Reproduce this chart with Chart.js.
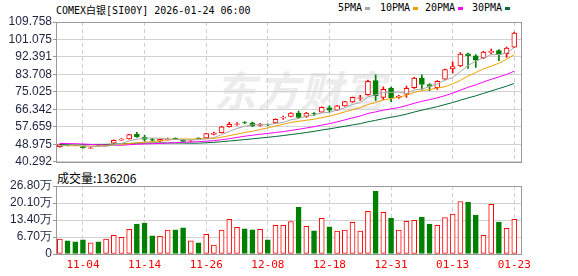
<!DOCTYPE html>
<html>
<head>
<meta charset="utf-8">
<script src="https://cdn.jsdelivr.net/npm/chart.js@4.4.1/dist/chart.umd.min.js"></script>
<style>
    body { margin: 0; background: #fff; width: 578px; height: 276px; overflow: hidden; position: relative; }
    .txt { position: absolute; white-space: nowrap; color: #000; }
    .mono { font: 10px "DejaVu Sans Mono", "Noto Sans CJK SC", monospace; }
    .mk { display: inline-block; width: 5px; height: 3px; vertical-align: middle; margin-left: 3px; }
    #wm { position: absolute; left: 214px; top: 58px; font: bold 42px "Noto Sans CJK SC"; color: #ececec; font-style: italic; letter-spacing: 1px; }
    canvas { position: absolute; left: 0; }
</style>
</head>
<body>
<div id="wm">东方财富</div>
<div class="txt mono" style="left:56px;top:2px;">COMEX白银[SI00Y] 2026-01-24 06:00</div>
<div class="txt mono" style="left:338px;top:2px;">5PMA<span class="mk" style="background:#a8a8a8"></span></div>
<div class="txt mono" style="left:380px;top:2px;">10PMA<span class="mk" style="background:#f0a000"></span></div>
<div class="txt mono" style="left:425px;top:2px;">20PMA<span class="mk" style="background:#ff00ff"></span></div>
<div class="txt mono" style="left:472px;top:2px;">30PMA<span class="mk" style="background:#006b35"></span></div>
<div class="txt" style="left:57px;top:169px;font:12px 'Noto Sans CJK SC';">成交量:136206</div>
<canvas id="mainChart" width="578" height="170" style="top:0"></canvas>
<canvas id="volChart" width="578" height="106" style="top:170px"></canvas>
<script>
const dates = ['10-30', '10-31', '11-03', '11-04', '11-05', '11-06', '11-07', '11-10', '11-11', '11-12',
    '11-13', '11-14', '11-17', '11-18', '11-19', '11-20', '11-21', '11-24', '11-25', '11-26',
    '11-27', '11-28', '12-01', '12-02', '12-03', '12-04', '12-05', '12-08', '12-09', '12-10',
    '12-11', '12-12', '12-15', '12-16', '12-17', '12-18', '12-19', '12-22', '12-23', '12-24',
    '12-26', '12-29', '12-30', '12-31', '01-02', '01-05', '01-06', '01-07', '01-08', '01-09',
    '01-12', '01-13', '01-14', '01-15', '01-16', '01-19', '01-20', '01-21', '01-22', '01-23'];

const opens = [47.8, 48.9, 48.6, 47.8, 47.0, 48.7, 48.3, 49.6, 51.1, 51.7, 54.0, 52.4, 51.3, 50.5, 51.3, 51.9, 51.0, 50.5, 52.0, 52.2,
    53.9, 54.8, 57.7, 58.9, 59.8, 59.6, 58.4, 58.8, 59.6, 62.1, 62.8, 64.5, 62.8, 64.3, 65.0, 67.1, 66.0, 68.1, 70.1, 71.8,
    73.6, 80.6, 72.3, 76.8, 72.3, 73.9, 77.1, 81.9, 78.7, 77.1, 81.3, 86.5, 87.9, 93.9, 92.9, 91.9, 94.6, 95.5, 94.0, 97.3];
const highs = [49.1, 49.1, 48.8, 48.0, 47.6, 48.9, 48.9, 51.2, 51.9, 54.0, 54.9, 53.5, 52.0, 51.5, 52.1, 52.2, 51.3, 51.0, 52.3, 54.4,
    55.0, 57.9, 59.9, 59.8, 60.3, 60.0, 59.4, 59.0, 61.6, 63.0, 64.8, 65.5, 64.9, 64.8, 67.6, 68.1, 68.3, 70.4, 72.5, 73.3,
    80.9, 83.5, 77.6, 77.4, 73.3, 77.9, 82.3, 83.5, 79.2, 80.6, 86.4, 90.0, 94.6, 94.3, 93.6, 95.2, 96.3, 96.1, 97.3, 104.8];
const lows = [47.6, 48.2, 48.3, 47.1, 46.8, 48.4, 48.1, 49.5, 50.9, 51.5, 52.4, 50.6, 50.5, 50.3, 51.0, 51.4, 50.2, 50.2, 51.6, 52.0,
    53.7, 54.6, 57.5, 58.4, 59.3, 57.8, 58.0, 58.3, 59.4, 61.4, 62.6, 61.8, 62.4, 63.2, 64.8, 64.9, 65.8, 67.9, 69.8, 70.8,
    73.4, 70.7, 71.2, 70.2, 71.8, 72.3, 76.8, 76.3, 75.6, 76.3, 81.0, 84.4, 87.5, 86.7, 87.2, 91.5, 93.9, 90.6, 92.2, 97.0];
const closes = [48.9, 48.4, 48.4, 47.3, 47.2, 48.5, 48.7, 51.0, 51.5, 53.8, 52.6, 51.4, 51.1, 51.4, 51.6, 51.6, 50.4, 50.7, 51.8, 54.3,
    54.4, 57.7, 58.9, 59.1, 59.6, 58.1, 58.8, 58.6, 61.4, 62.4, 64.5, 62.4, 64.5, 64.1, 67.4, 65.9, 68.1, 70.2, 72.3, 72.1,
    80.3, 73.1, 76.3, 72.0, 72.9, 76.8, 81.9, 78.7, 77.7, 80.3, 86.1, 87.6, 93.8, 93.0, 90.8, 94.8, 95.3, 93.7, 96.8, 104.2];
// closes before the visible window, estimated from where the PMA lines start on the left edge
const priorCloses = [46.4, 46.9, 47.2, 47.0, 47.6, 48.0, 47.8, 48.3, 48.5, 48.3,
    49.2, 50.1, 50.4, 51.3, 52.6, 51.4, 52.8, 50.9, 48.6, 47.7,
    48.4, 48.6, 48.9, 48.1, 47.5, 46.8, 47.4, 49.1, 49.3];
// volume in 万
const volumes = [5.85, 5.2, 4.8, 5.6, 4.4, 4.8, 5.85, 7.4, 6.6, 9.75, 11.8, 12.2, 7.15, 7.0, 9.4, 9.5, 10.3, 5.2, 4.4, 7.8,
    3.5, 9.4, 13.7, 10.5, 9.9, 9.5, 9.75, 5.6, 11.3, 11.3, 12.8, 18.5, 10.9, 9.1, 14.05, 10.7, 9.0, 9.4, 12.5, 9.0,
    16.8, 24.7, 16.4, 14.2, 9.4, 12.9, 13.3, 14.6, 11.8, 11.3, 14.4, 15.7, 20.7, 20.4, 15.35, 7.4, 19.6, 12.6, 10.15, 13.62];

const priceTicks = [40.292, 48.975, 57.659, 66.342, 75.025, 83.708, 92.391, 101.075, 109.758];
const volTicks = [0, 6.70, 13.40, 20.10, 26.80];
const dateTickIdx = [3, 11, 19, 27, 35, 43, 51, 59];
const maPeriods = [5, 10, 20, 30];
const maColors = ['#a8a8a8', '#f0a000', '#ff00ff', '#006b35'];

const UP = '#ff0000';
const DOWN = '#008000';
const isUp = (i) => closes[i] >= opens[i];

const allCloses = priorCloses.concat(closes);
function movingAvg(period) {
    const out = [];
    for (let i = 0; i < closes.length; i++) {
        const end = priorCloses.length + i + 1;
        const slice = allCloses.slice(end - period, end);
        out.push({ x: i, y: slice.reduce((a, b) => a + b, 0) / period });
    }
    return out;
}

const tickFont = { family: '"Liberation Sans", Arial, sans-serif', size: 12 };

const frame = {
    id: 'frame',
    afterDraw(chart) {
        const { ctx, chartArea: a } = chart;
        ctx.save();
        ctx.strokeStyle = '#999';
        ctx.lineWidth = 1;
        ctx.strokeRect(Math.round(a.left) + 0.5, Math.round(a.top) + 0.5, Math.round(a.right - a.left) - 1, Math.round(a.bottom - a.top));
        ctx.restore();
    },
};

function xScale(showLabels) {
    return {
        type: 'linear',
        offset: false,
        bounds: 'ticks',
        min: -0.5,
        max: 60,
        afterBuildTicks: (s) => { s.ticks = dateTickIdx.map((v) => ({ value: v })); },
        afterFit: (s) => { s.height = showLabels ? 22 : 0; },
        grid: { color: '#cfcfcf', drawTicks: false, offset: false },
        border: { display: false, dash: [4, 3] },
        ticks: {
            display: showLabels,
            padding: 5,
            autoSkip: false,
            maxRotation: 0,
            color: '#ff0000',
            font: { family: '"DejaVu Sans Mono", monospace', size: 11 },
            callback: (v) => dates[v],
        },
    };
}

function yScale(min, max, tickList, fmt) {
    return {
        min,
        max,
        afterBuildTicks: (s) => { s.ticks = tickList.map((v) => ({ value: v })); },
        afterFit: (s) => { s.width = 56; },
        grid: { color: '#d2d2d2', tickColor: '#999', tickLength: 3 },
        border: { color: '#999' },
        ticks: { autoSkip: false, color: '#1d2440', font: tickFont, padding: 1, callback: fmt },
    };
}

const bodies = [];
const upperWicks = [];
const lowerWicks = [];
for (let i = 0; i < closes.length; i++) {
    const top = Math.max(opens[i], closes[i]);
    const bot = Math.min(opens[i], closes[i]);
    bodies.push({ x: i, y: [bot, top] });
    upperWicks.push({ x: i, y: [top, highs[i]] });
    lowerWicks.push({ x: i, y: [lows[i], bot] });
}
const candleColors = closes.map((c, i) => (isUp(i) ? UP : DOWN));
const candleFill = closes.map((c, i) => (isUp(i) ? '#ffffff' : DOWN));

const maSets = maPeriods.map((p, k) => ({
    type: 'line',
    label: `${p}PMA`,
    data: movingAvg(p),
    borderColor: maColors[k],
    borderWidth: 1,
    pointRadius: 0,
    tension: 0,
    order: 0,
}));

new Chart(document.getElementById('mainChart'), {
    type: 'bar',
    data: {
        datasets: [
            ...maSets,
            {
                label: 'body',
                data: bodies,
                backgroundColor: candleFill,
                borderColor: candleColors,
                borderWidth: 1,
                borderSkipped: false,
                barThickness: 5,
                grouped: false,
                order: 1,
            },
            { label: 'hi', data: upperWicks, backgroundColor: candleColors, barThickness: 1, grouped: false, order: 2 },
            { label: 'lo', data: lowerWicks, backgroundColor: candleColors, barThickness: 1, grouped: false, order: 2 },
        ],
    },
    options: {
        responsive: false,
        animation: false,
        layout: { padding: { top: 22, right: 56, bottom: 4, left: 0 } },
        scales: {
            x: xScale(false),
            y: yScale(40.292, 109.758, priceTicks, (v) => v.toFixed(3)),
        },
        plugins: { legend: { display: false }, tooltip: { enabled: false } },
    },
    plugins: [frame],
});

new Chart(document.getElementById('volChart'), {
    type: 'bar',
    data: {
        datasets: [{
            label: 'vol',
            data: volumes.map((v, i) => ({ x: i, y: v })),
            backgroundColor: candleFill,
            borderColor: candleColors,
            borderWidth: 1,
            borderSkipped: false,
            barThickness: 5,
        }],
    },
    options: {
        responsive: false,
        animation: false,
        layout: { padding: { top: 16, right: 56, bottom: 0, left: 0 } },
        scales: {
            x: xScale(true),
            y: yScale(0, 26.8, volTicks, (v) => (v === 0 ? '0' : v.toFixed(2) + '万')),
        },
        plugins: { legend: { display: false }, tooltip: { enabled: false } },
    },
    plugins: [frame],
});
</script>
</body>
</html>
